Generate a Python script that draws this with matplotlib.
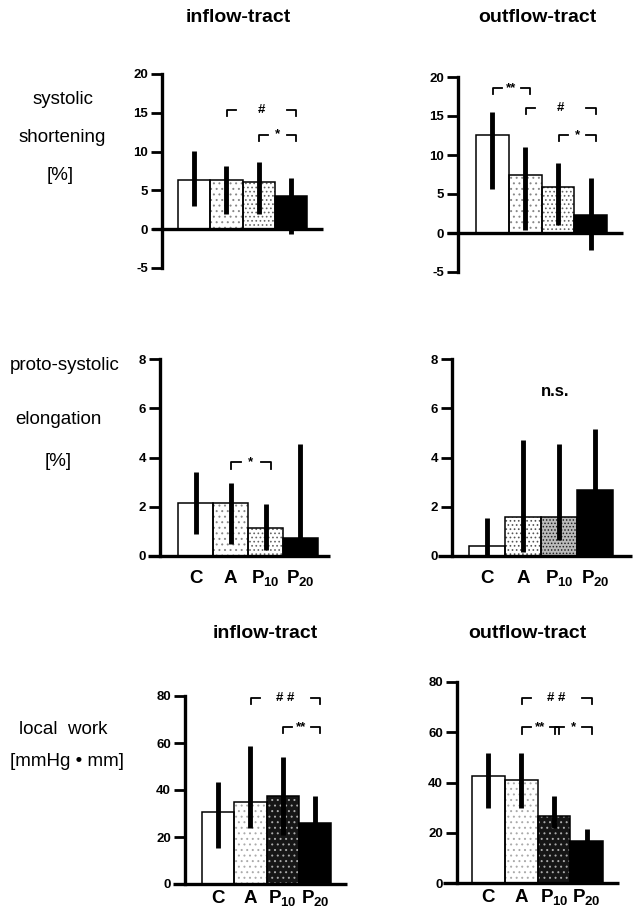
import matplotlib.pyplot as plt

plt.rcParams['font.family'] = ['Liberation Sans', 'DejaVu Sans']
plt.rcParams['mathtext.fontset'] = 'custom'
plt.rcParams['mathtext.rm'] = 'Liberation Sans:bold'
plt.rcParams['mathtext.it'] = 'Liberation Sans:bold'
plt.rcParams['mathtext.bf'] = 'Liberation Sans:bold'
plt.rcParams['hatch.linewidth'] = 0.7
plt.rcParams['axes.unicode_minus'] = False

groups = ['C', 'A', 'P$_{10}$', 'P$_{20}$']

# systolic shortening [%]
short_in = [6.3, 6.3, 6.1, 4.25]
short_in_lo = [2.95, 1.9, 1.9, -0.6]
short_in_hi = [10.1, 8.1, 8.6, 6.6]
short_out = [12.6, 7.4, 5.9, 2.3]
short_out_lo = [5.7, 0.4, 1.0, -2.2]
short_out_hi = [15.5, 11.0, 9.0, 7.0]

# proto-systolic elongation [%]
elong_in = [2.15, 2.15, 1.12, 0.75]
elong_in_lo = [0.9, 0.5, 0.25, 0.0]
elong_in_hi = [3.4, 2.95, 2.1, 4.55]
elong_out = [0.4, 1.6, 1.6, 2.7]
elong_out_lo = [0.0, 0.17, 0.65, 2.7]
elong_out_hi = [1.55, 4.7, 4.55, 5.15]

# local work [mmHg*mm]
work_in = [30.6, 35.0, 37.4, 26.0]
work_in_lo = [15.3, 24.0, 21.0, 20.0]
work_in_hi = [43.4, 58.7, 54.0, 37.4]
work_out = [42.6, 41.0, 26.7, 16.7]
work_out_lo = [30.0, 30.0, 22.0, 16.7]
work_out_hi = [51.8, 51.8, 34.7, 21.5]

# significance brackets: (from group, to group, label, height)
sig_short_in = [(1, 3, '#', 15.4), (2, 3, '*', 12.2)]
sig_short_out = [(0, 1, '**', 18.6), (1, 3, '#', 16.0), (2, 3, '*', 12.6)]
sig_elong_in = [(1, 2, '*', 3.8)]
sig_elong_out = []
sig_work_in = [(1, 3, '# #', 79.0), (2, 3, '**', 66.8)]
sig_work_out = [(1, 3, '# #', 73.7), (1, 2, '**', 62.0), (2, 3, '*', 62.0)]

W, H = 637, 914
fig = plt.figure(figsize=(W / 100, H / 100), dpi=100)

# bar fills: (face, hatch, hatch colour)
fill_top = [('white', None, None), ('white', '...', '#888888'),
            ('white', '....', '#666666'), ('black', None, None)]
fill_mid_out = [('white', None, None), ('white', '....', '#555555'),
                ('#bbbbbb', '.....', '#222222'), ('black', None, None)]
fill_bot = [('white', None, None), ('white', '...', '#aaaaaa'),
            ('#161616', '...', '#aaaaaa'), ('black', None, None)]


def panel(spine_px, bar0_px, bw, left_px, right_px, top_px, bot_px, ymin, ymax, yticks):
    c0 = bar0_px + bw / 2
    ax = fig.add_axes([left_px / W, 1 - bot_px / H, (right_px - left_px) / W, (bot_px - top_px) / H])
    ax.set_xlim((left_px - c0) / bw, (right_px - c0) / bw)
    ax.set_ylim(ymin, ymax)
    ax.patch.set_alpha(0)
    for s in ['top', 'right', 'bottom']:
        ax.spines[s].set_visible(False)
    ax.spines['left'].set_position(('data', (spine_px - c0) / bw))
    ax.spines['left'].set_linewidth(2.4)
    ax.set_xticks([])
    ax.set_yticks(yticks)
    ax.tick_params(axis='y', direction='out', length=8, width=2, labelsize=9.5, pad=2)
    for lbl in ax.get_yticklabels():
        lbl.set_fontweight('bold')
    ax.plot([(left_px - c0) / bw, (right_px - c0) / bw], [0, 0], color='black', lw=2.4,
            clip_on=False, solid_capstyle='butt', zorder=5)
    return ax


def bars(ax, vals, lo, hi, fills):
    for i, v in enumerate(vals):
        face, hatch, hc = fills[i]
        ax.bar(i, v, width=1.0, color=face, edgecolor=hc if hatch else face,
               hatch=hatch, linewidth=0, zorder=2)
        ax.bar(i, v, width=1.0, fill=False, edgecolor='black', linewidth=1.1, zorder=3)
    ax.vlines(range(len(vals)), lo, hi, color='black', lw=3.5, zorder=4)


def brackets(ax, sigs, tick):
    for i, j, lab, y in sigs:
        x1, x2 = i + 0.02, j + 0.15
        seg = 0.28
        ax.plot([x1, x1, x1 + seg], [y - tick, y, y], color='black', lw=1.3, clip_on=False)
        ax.plot([x2 - seg, x2, x2], [y, y, y - tick], color='black', lw=1.3, clip_on=False)
        ax.text((x1 + x2) / 2, y, lab, ha='center', va='center', fontsize=9.5,
                fontweight='bold', clip_on=False)


def cat_labels(ax, drop):
    for i, g in enumerate(groups):
        ax.annotate(g, xy=(i, 0), xycoords=('data', 'axes fraction'), xytext=(0, -drop),
                    textcoords='offset pixels', ha='center', va='baseline',
                    fontsize=13.5, fontweight='bold')


# top row
ax = panel(162, 178, 32.25, 152, 323, 74, 268, -5, 20, [-5, 0, 5, 10, 15, 20])
bars(ax, short_in, short_in_lo, short_in_hi, fill_top)
brackets(ax, sig_short_in, 0.8)

ax = panel(458, 476, 32.75, 447, 623, 77, 272, -5, 20, [-5, 0, 5, 10, 15, 20])
bars(ax, short_out, short_out_lo, short_out_hi, fill_top)
brackets(ax, sig_short_out, 0.8)

# middle row
ax = panel(160, 178, 35, 148, 330, 359, 556, 0, 8, [0, 2, 4, 6, 8])
bars(ax, elong_in, elong_in_lo, elong_in_hi, fill_top)
brackets(ax, sig_elong_in, 0.25)
cat_labels(ax, 27)

ax = panel(452, 469, 36, 438, 632, 359, 556, 0, 8, [0, 2, 4, 6, 8])
bars(ax, elong_out, elong_out_lo, elong_out_hi, fill_mid_out)
brackets(ax, sig_elong_out, 0.25)
ax.text(1.9, 6.7, 'n.s.', ha='center', va='center', fontsize=12, fontweight='bold')
cat_labels(ax, 27)

# bottom row
ax = panel(185, 202, 32.25, 173, 347, 696, 884, 0, 80, [0, 20, 40, 60, 80])
bars(ax, work_in, work_in_lo, work_in_hi, fill_bot)
brackets(ax, sig_work_in, 2.5)
cat_labels(ax, 19)

ax = panel(457, 472, 32.75, 443, 619, 682, 883, 0, 80, [0, 20, 40, 60, 80])
bars(ax, work_out, work_out_lo, work_out_hi, fill_bot)
brackets(ax, sig_work_out, 2.5)
cat_labels(ax, 19)

# column titles
for x, y, t in [(238, 18, 'inflow-tract'), (537, 17, 'outflow-tract'),
                (265, 633, 'inflow-tract'), (527, 633, 'outflow-tract')]:
    fig.text(x / W, 1 - y / H, t, ha='center', va='center', fontsize=14, fontweight='bold')

# row labels
for x, y, t in [(63, 100, 'systolic'), (62, 138, 'shortening'), (60, 176, '[%]'),
                (65, 365, 'proto-systolic'), (58, 420, 'elongation'), (58, 462, '[%]'),
                (63, 730, 'local  work'), (67, 762, '[mmHg \u2022 mm]')]:
    fig.text(x / W, 1 - y / H, t, ha='center', va='center', fontsize=13.5)

fig.savefig('out.png', dpi=100)
